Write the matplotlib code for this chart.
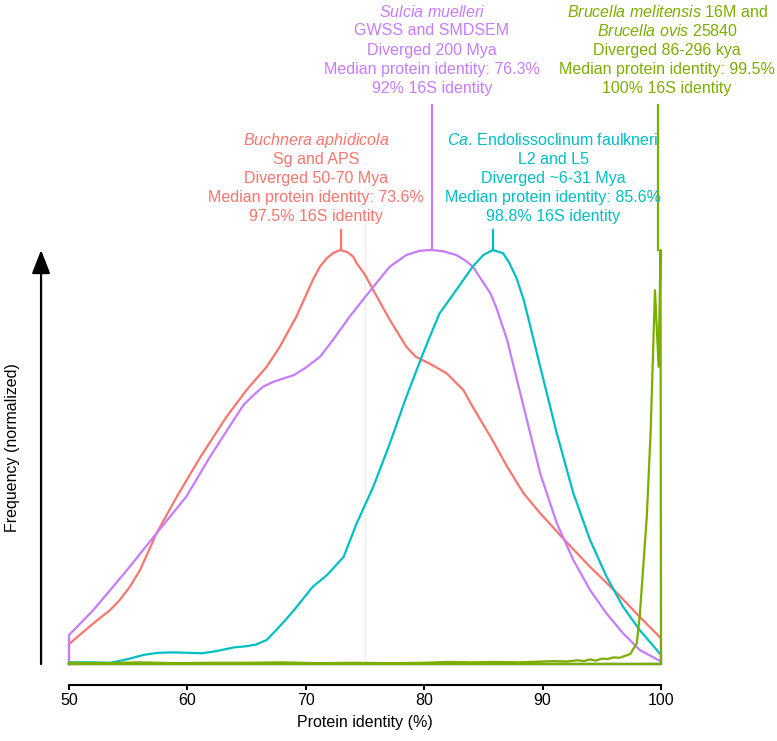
import matplotlib
matplotlib.use("Agg")
import matplotlib.pyplot as plt

plt.rcParams['font.family'] = ['Liberation Sans', 'DejaVu Sans']
plt.rcParams['mathtext.fontset'] = 'custom'
plt.rcParams['mathtext.rm'] = 'Liberation Sans'
plt.rcParams['mathtext.it'] = 'Liberation Sans:italic'

# colours (ggplot hue palette)
c_red = '#F8766D'
c_purple = '#C77CFF'
c_cyan = '#00BFC4'
c_green = '#7CAE00'

# Buchnera aphidicola (Sg vs APS)
buch_x = [50, 52.05, 53.46, 54.3, 55.15, 56.0, 57.4, 59.1, 61.1, 63.3, 65.0, 66.7, 67.8, 69.2,
          70.6, 71.2, 71.77, 72.33, 72.9, 73.5, 74.0, 74.3, 75.0, 75.7, 77.1, 78.5, 79.3, 80.5,
          81.9, 83.3, 84.1, 85.6, 87.0, 88.4, 89.8, 92.0, 94.0, 96.3, 98.2, 100]
buch_y = [0.048, 0.098, 0.130, 0.155, 0.187, 0.227, 0.316, 0.404, 0.50, 0.597, 0.662, 0.718, 0.766, 0.839,
          0.928, 0.96, 0.98, 0.993, 1.0, 0.995, 0.984, 0.968, 0.94, 0.903, 0.831, 0.766, 0.742, 0.725,
          0.702, 0.662, 0.621, 0.549, 0.477, 0.412, 0.364, 0.295, 0.235, 0.171, 0.114, 0.062]

# Sulcia muelleri (GWSS vs SMDSEM)
sulc_x = [50, 52.05, 54.9, 57.4, 59.9, 61.9, 63.9, 64.75, 65.6, 66.4, 67.3, 69.0, 69.9, 71.2,
          72.3, 73.7, 75.7, 77.1, 78.5, 79.6, 80.6, 81.6, 82.7, 83.5, 84.1, 85.6, 86.1, 87.0,
          87.5, 88.4, 89.8, 91.2, 92.6, 94.0, 95.4, 96.8, 98.2, 100]
sulc_y = [0.07, 0.13, 0.227, 0.316, 0.404, 0.50, 0.589, 0.626, 0.65, 0.67, 0.682, 0.698, 0.714, 0.742,
          0.783, 0.839, 0.911, 0.960, 0.988, 0.998, 1.0, 0.997, 0.988, 0.974, 0.960, 0.895, 0.86, 0.783,
          0.725, 0.621, 0.46, 0.34, 0.251, 0.179, 0.122, 0.074, 0.034, 0.006]

# Ca. Endolissoclinum faulkneri (L2 vs L5)
endo_x = [50, 52, 53.5, 55, 56.3, 57.5, 58.8, 60, 61.3, 62.6, 63.9, 65.0, 65.8, 66.7, 67.5, 68.4,
          69.0, 70.6, 71.8, 73.2, 74.3, 75.7, 77.1, 78.5, 79.9, 80.6, 81.3, 82.0, 82.7, 84.1,
          85.0, 85.8, 86.67, 87.2, 87.8, 88.4, 88.9, 89.8, 91.2, 92.6, 94.0, 95.4, 96.8, 98.2, 100]
endo_y = [0.004, 0.004, 0.003, 0.012, 0.022, 0.027, 0.028, 0.027, 0.026, 0.032, 0.040, 0.043, 0.047, 0.058, 0.082, 0.11,
          0.13, 0.187, 0.215, 0.259, 0.34, 0.428, 0.533, 0.646, 0.75, 0.799, 0.847, 0.875, 0.903, 0.960,
          0.988, 1.0, 0.992, 0.968, 0.932, 0.88, 0.823, 0.718, 0.557, 0.412, 0.30, 0.211, 0.138, 0.082, 0.022]

# Brucella melitensis 16M vs Brucella ovis 25840
bruc_x = [50, 53, 56, 59, 62, 65, 68, 71, 74, 77, 80, 82, 84, 86, 88, 90, 91, 92, 93, 93.5,
          94, 94.5, 95, 95.5, 96, 96.5, 97, 97.4, 97.7, 97.95, 98.2, 98.5, 98.8, 99.13, 99.49,
          99.8, 99.96, 100]
bruc_y = [0.003, 0.002, 0.004, 0.002, 0.003, 0.003, 0.004, 0.002, 0.003, 0.002, 0.003, 0.005, 0.004, 0.005, 0.004, 0.006, 0.007, 0.006, 0.009, 0.007,
          0.011, 0.008, 0.013, 0.012, 0.016, 0.015, 0.02, 0.024, 0.038, 0.05, 0.114, 0.235, 0.356, 0.565, 0.903,
          0.718, 1.0, 0.0]

# annotation text
buch_text = [r'$\mathit{Buchnera\ aphidicola}$', 'Sg and APS', 'Diverged 50-70 Mya',
             'Median protein identity: 73.6%', '97.5% 16S identity']
sulc_text = [r'$\mathit{Sulcia\ muelleri}$', 'GWSS and SMDSEM', 'Diverged 200 Mya',
             'Median protein identity: 76.3%', '92% 16S identity']
endo_text = [r'$\mathit{Ca.}\,$Endolissoclinum faulkneri', 'L2 and L5', 'Diverged ~6-31 Mya',
             'Median protein identity: 85.6%', '98.8% 16S identity']
bruc_text = [r'$\mathit{Brucella\ melitensis}$ 16M and', r'$\mathit{Brucella\ ovis}$ 25840',
             'Diverged 86-296 kya', 'Median protein identity: 99.5%', '100% 16S identity']

fig = plt.figure(figsize=(7.77, 7.41), dpi=100)
ax = fig.add_axes([69 / 777, 1 - 664 / 741, 592 / 777, 414 / 741])
ax.set_xlim(50, 100)
ax.set_ylim(0, 1)

# faint guide at 75
ax.plot([75, 75], [0, 1.15], color='#efefef', lw=1, clip_on=False, zorder=0)

series = [
    (buch_x, buch_y, c_red, buch_text, 73.0, 316, 1.048, 1.2657),
    (sulc_x, sulc_y, c_purple, sulc_text, 80.7, 432, 1.35, 1.5756),
    (endo_x, endo_y, c_cyan, endo_text, 85.8, 553, 1.048, 1.2657),
    (bruc_x, bruc_y, c_green, bruc_text, 99.75, 667, 1.35, 1.5756),
]

dy = 19.2 / 414
for xs, ys, col, lines, lx, tx_px, ltop, ytop in series:
    px = [50] + xs + [100, 50]
    py = [0] + ys + [0, 0]
    ax.plot(px, py, color=col, lw=1.6, clip_on=False, solid_joinstyle='round')
    ax.plot([lx, lx], [1.0, ltop], color=col, lw=1.6, clip_on=False)
    tx = 50 + (tx_px - 69) / 592 * 50
    for i, s in enumerate(lines):
        ax.text(tx, ytop - i * dy, s, color=col, fontsize=11.5, ha='center', va='center',
                clip_on=False)

# y arrow
ax.annotate('', xy=(47.64, 1.0), xytext=(47.64, 0.0), xycoords='data', textcoords='data',
            annotation_clip=False,
            arrowprops=dict(arrowstyle='-|>,head_length=0.9,head_width=0.35', color='black',
                            lw=1.6, mutation_scale=16, shrinkA=0, shrinkB=0))

for s in ['left', 'top', 'right']:
    ax.spines[s].set_visible(False)
ax.spines['bottom'].set_position(('outward', 15))
ax.spines['bottom'].set_linewidth(1.5)
ax.set_yticks([])
ax.set_xticks([50, 60, 70, 80, 90, 100])
ax.tick_params(axis='x', length=3.5, width=1.5, pad=2.5, labelsize=11.5)
ax.set_xlabel('Protein identity (%)', fontsize=11.5, labelpad=5)
fig.text(13 / 777, 1 - 448 / 741, 'Frequency (normalized)', rotation=90, fontsize=11.5,
         ha='center', va='center')

fig.savefig('out.png', dpi=100)
